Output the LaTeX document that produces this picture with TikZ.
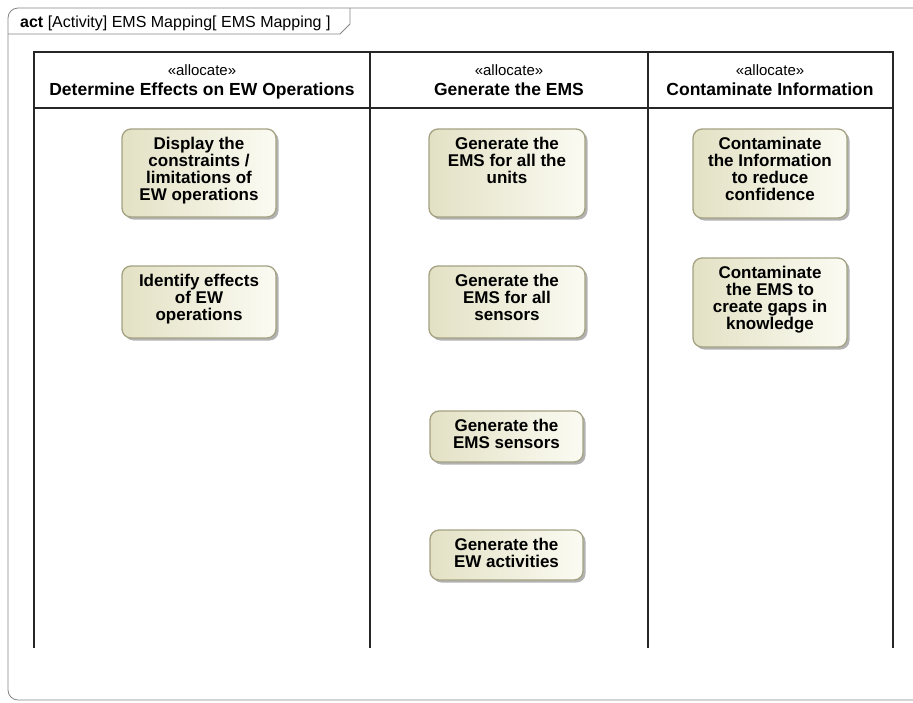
\documentclass[tikz,border=0pt]{standalone}
\usepackage{fontspec}
\setmainfont{Liberation Sans}
\usetikzlibrary{positioning,shadows}
\definecolor{actlight}{HTML}{FBFBF3}
\definecolor{actdark}{HTML}{E3E1C4}
\definecolor{actborder}{HTML}{A4A282}
\definecolor{framegray}{HTML}{858585}
\begin{document}
\begin{tikzpicture}[x=1pt, y=-1pt,
  action/.style={draw=actborder, line width=1.3pt, rounded corners=9pt, left color=actdark, right color=actlight, drop shadow={shadow xshift=2.5pt, shadow yshift=-2.5pt, fill=black, opacity=0.3}, inner sep=0pt},
  acttext/.style={font=\fontsize{17}{17}\selectfont\bfseries, align=center, inner sep=0pt},
  stereo/.style={font=\fontsize{15}{15}\selectfont, anchor=base, inner sep=0pt},
  lanename/.style={font=\fontsize{17.5}{17.5}\selectfont\bfseries, anchor=base, inner sep=0pt},
  lane/.style={line width=2pt, black!85}]
\useasboundingbox (0,0) rectangle (913,702);
% frame and tab
\draw[framegray, line width=0.8pt, rounded corners=10pt] (920,8) -- (8,8) -- (8,700) -- (920,700);
\draw[framegray, line width=0.8pt] (8,34) -- (340,34) -- (350,24) -- (350,8);
\node[anchor=base west, inner sep=0pt, font=\fontsize{16}{16}\selectfont] (title) at (20,27) {\textbf{act} [Activity] EMS Mapping[ EMS Mapping ]};
% swimlanes
\draw[lane] (34,648) -- (34,52) -- (893,52) -- (893,648);
\draw[lane] (370,52) -- (370,648);
\draw[lane] (648,52) -- (648,648);
\draw[lane] (34,108) -- (893,108);
\node[stereo] (st1) at (202,75) {«allocate»};
\node[lanename] (ln1) at (202,95) {Determine Effects on EW Operations};
\node[stereo] (st2) at (509,75) {«allocate»};
\node[lanename] (ln2) at (509,95) {Generate the EMS};
\node[stereo] (st3) at (770,75) {«allocate»};
\node[lanename] (ln3) at (770,95) {Contaminate Information};
% actions
\node[action, minimum width=154pt, minimum height=88pt] (act1) at (199,173) {};
\node[acttext, below=9pt of act1.north] (txt1) {Display the\\constraints /\\limitations of\\EW operations};
\node[action, minimum width=154pt, minimum height=72pt] (act2) at (199,302) {};
\node[acttext, below=9pt of act2.north] (txt2) {Identify effects\\of EW\\operations};
\node[action, minimum width=156pt, minimum height=88pt] (act3) at (507,173) {};
\node[acttext, below=9pt of act3.north] (txt3) {Generate the\\EMS for all the\\units};
\node[action, minimum width=156pt, minimum height=72pt] (act4) at (507,302) {};
\node[acttext, below=9pt of act4.north] (txt4) {Generate the\\EMS for all\\sensors};
\node[action, minimum width=153pt, minimum height=51pt] (act5) at (506.5,436.5) {};
\node[acttext, below=9pt of act5.north] (txt5) {Generate the\\EMS sensors};
\node[action, minimum width=153pt, minimum height=50pt] (act6) at (506.5,555) {};
\node[acttext, below=9pt of act6.north] (txt6) {Generate the\\EW activities};
\node[action, minimum width=154pt, minimum height=89pt] (act7) at (770,173.5) {};
\node[acttext, below=9pt of act7.north] (txt7) {Contaminate\\the Information\\to reduce\\confidence};
\node[action, minimum width=154pt, minimum height=89pt] (act8) at (770,302.5) {};
\node[acttext, below=9pt of act8.north] (txt8) {Contaminate\\the EMS to\\create gaps in\\knowledge};
\end{tikzpicture}
\end{document}
